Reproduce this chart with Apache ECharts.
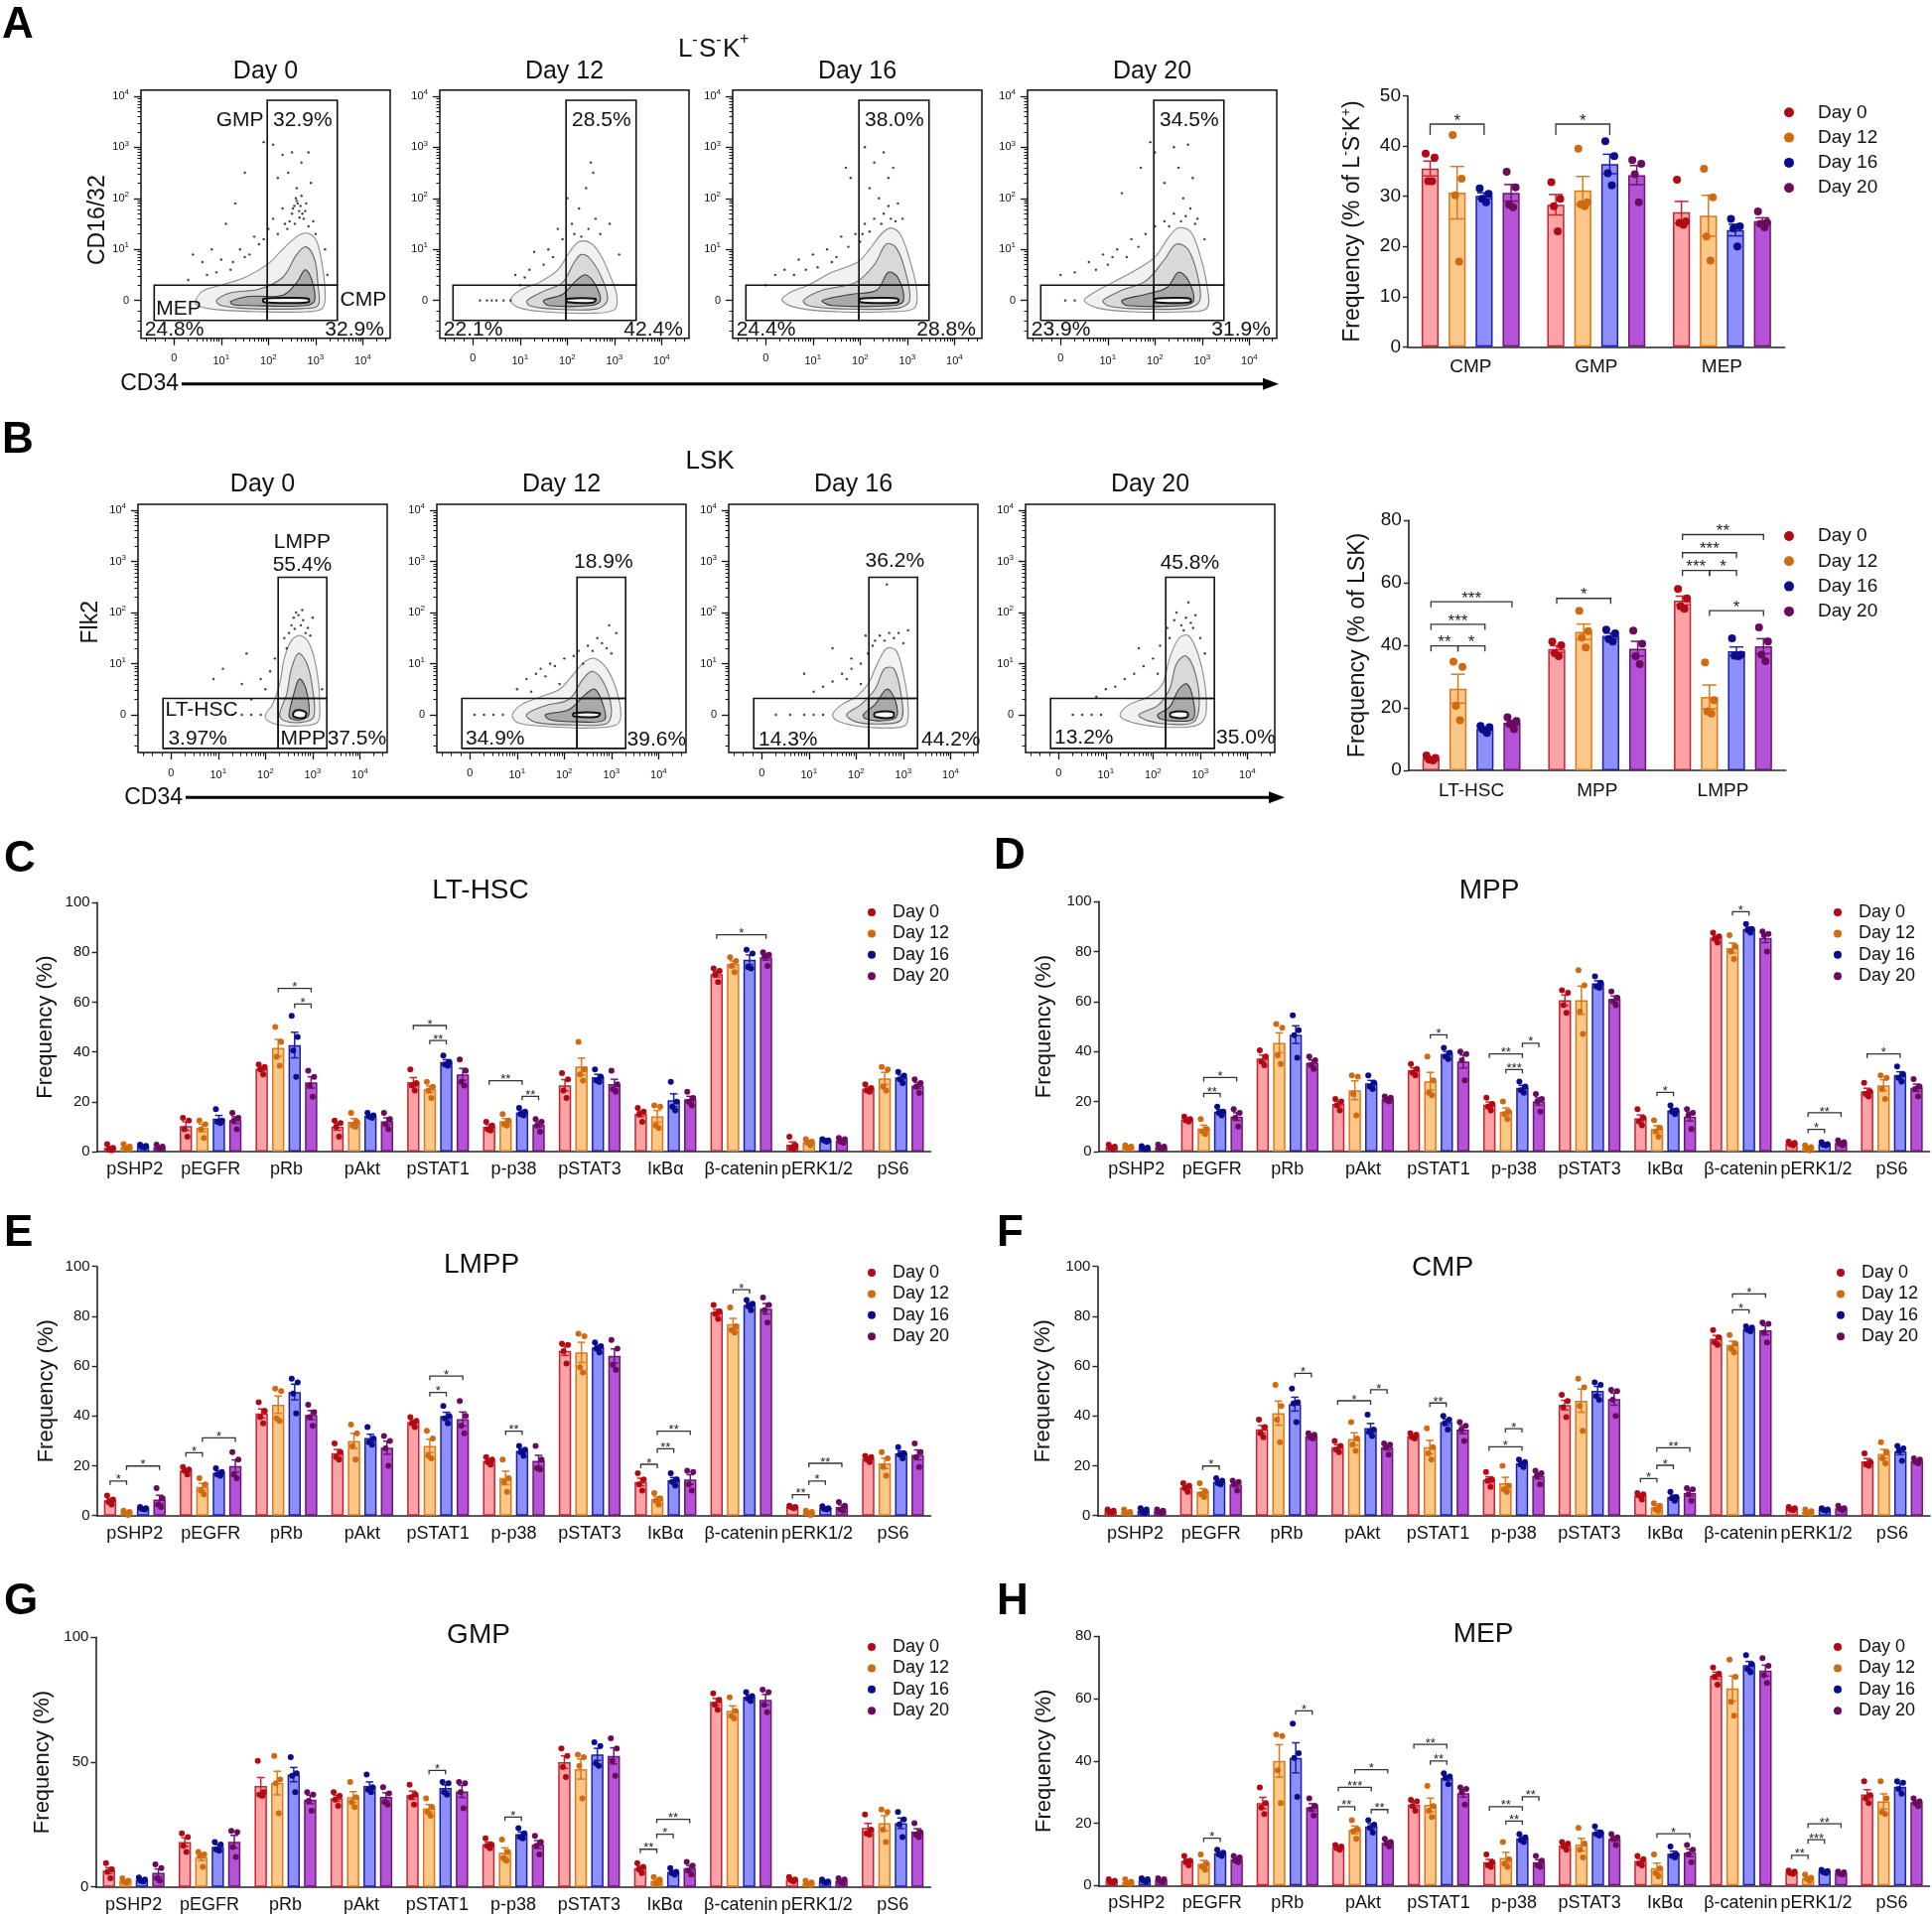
<!DOCTYPE html>
<html><head><meta charset="utf-8">
<script src="https://cdn.jsdelivr.net/npm/echarts@6/dist/echarts.min.js"></script>
<style>html,body{margin:0;padding:0;background:#fff}#c{width:1946px;height:1930px}</style>
</head><body><div id="c"></div>
<script>
const FONT = "'Liberation Sans', Arial, Helvetica, sans-serif";
const dayNames = ['Day 0','Day 12','Day 16','Day 20'];
const fillCol = ['#FBA3A6','#FDC788','#8D90FA','#B553D8'];
const edgeCol = ['#C02530','#D9781C','#1D1FA3','#6C1670'];
const dotCol  = ['#B10A14','#D06A10','#0B0C8C','#6A0B5E'];

// ---------- Panel A / B bar data (dots per bar) ----------
const catsA = ['CMP','GMP','MEP'];
const A_day0  = [[38.5,37.7,33.0,33.0],[32.8,29.5,28.0,23.0],[33.3,25.0,24.7,24.3]];
const A_day12 = [[42.2,33.5,30.2,17.0],[39.5,28.8,28.4,28.0],[35.5,29.8,22.0,17.2]];
const A_day16 = [[31.6,30.5,29.5,28.8],[41.0,38.0,34.6,32.2],[25.5,24.0,23.6,20.0]];
const A_day20 = [[34.9,31.8,28.3,27.8],[37.2,36.5,34.4,28.8],[27.0,24.8,24.5,23.8]];
const A_sig = [[0,0,2,44.4,'*'],[1,0,2,44.4,'*']];

const catsB = ['LT-HSC','MPP','LMPP'];
const B_day0  = [[4.8,4.0,3.5,3.2],[41.2,40.0,37.5,36.5],[58.0,55.0,52.5,51.7]];
const B_day12 = [[34.8,33.1,20.6,16.0],[51.0,44.5,42.5,39.3],[34.5,22.5,18.8,18.2]];
const B_day16 = [[14.2,13.8,13.0,12.0],[45.0,43.8,42.0,41.2],[42.2,37.0,36.7,36.5]];
const B_day20 = [[17.0,15.8,14.8,13.2],[44.7,40.5,36.5,34.0],[45.7,41.2,37.0,34.9]];
const B_sig = [[0,0,1,39.8,'**'],[0,1,2,39.8,'*'],[0,0,2,46.7,'***'],[0,0,3,53.9,'***'],[1,0,2,55.0,'*'],
  [2,0,1,63.9,'***'],[2,1,2,63.9,'*'],[2,0,2,69.6,'***'],[2,0,3,75.4,'**'],[2,1,3,51.1,'*']];

// ---------- Panels C-H ----------
const catsBig = ['pSHP2','pEGFR','pRb','pAkt','pSTAT1','p-p38','pSTAT3','IκBα','β-catenin','pERK1/2','pS6'];

const C_day0  = [[3.0,1.5,0.8,0.5],[13.5,12.5,9.0,6.0],[35.0,34.0,33.0,31.0],[12.5,11.5,10.0,6.0],[33.0,27.5,26.5,24.5],[12.0,10.5,9.0,8.5],[31.5,29.0,24.5,21.5],[17.5,16.0,15.0,12.0],[73.5,72.5,71.0,68.0],[6.0,2.5,1.5,1.0],[27.0,25.5,24.5,24.0]];
const C_day12 = [[3.0,2.0,1.5,0.8],[12.5,11.0,9.0,5.5],[50.0,44.0,38.0,34.5],[15.5,12.0,10.5,10.0],[28.0,26.0,24.5,21.5],[15.0,12.5,11.0,10.5],[44.0,33.0,31.0,28.5],[18.5,18.0,10.5,9.5],[78.0,76.5,74.5,72.0],[5.0,4.0,3.5,2.5],[34.0,33.0,26.0,24.5]];
const C_day16 = [[2.8,2.3,2.0,1.7],[17.0,12.5,12.0,11.5],[54.5,46.0,40.5,30.0],[15.5,14.5,14.0,13.5],[38.5,36.0,35.0,34.5],[17.5,16.0,15.0,14.5],[33.0,30.0,28.5,28.0],[28.0,20.0,18.0,16.5],[81.0,79.5,74.0,73.5],[5.0,4.5,4.5,4.0],[32.0,30.5,29.0,27.5]];
const C_day20 = [[2.8,2.0,1.5,1.0],[15.5,13.5,12.5,9.0],[32.5,30.0,26.5,22.0],[15.5,13.0,11.0,9.0],[37.0,32.5,28.0,26.5],[13.0,12.0,10.5,8.0],[32.5,27.0,25.0,24.0],[24.0,21.5,20.0,18.5],[80.0,79.0,78.5,74.5],[5.5,5.0,4.0,3.5],[29.0,27.5,26.0,23.5]];
const C_sig = [[2,1,3,65.5,'*'],[2,2,3,59.2,'*'],[4,0,2,50.6,'*'],[4,1,2,44.6,'**'],[5,0,2,28.4,'**'],[5,2,3,22.2,'**'],[8,0,3,87.0,'*']];

const D_day0  = [[2.8,2.0,1.5,1.0],[14.0,13.0,12.5,12.0],[40.5,38.0,36.0,34.5],[21.0,20.0,18.5,16.5],[35.0,33.0,31.5,30.5],[21.5,19.0,18.0,16.5],[64.5,63.5,58.5,55.5],[17.0,13.5,12.0,10.5],[87.5,86.0,85.0,83.5],[4.0,3.5,3.0,2.5],[27.5,24.0,23.0,22.0]];
const D_day12 = [[2.5,2.0,1.5,1.2],[13.0,9.0,8.0,7.0],[51.0,49.5,38.5,35.0],[30.5,30.0,23.0,14.5],[38.0,28.5,23.5,22.5],[20.0,16.0,15.0,13.0],[72.5,66.5,56.0,47.0],[12.5,9.5,8.0,6.0],[86.5,82.0,80.0,77.0],[2.5,1.8,1.0,0.5],[30.5,29.5,25.0,21.0]];
const D_day16 = [[2.2,1.6,1.2,1.0],[18.0,16.0,15.5,14.5],[54.5,48.5,46.5,37.5],[30.5,27.5,26.0,25.0],[41.5,39.5,38.0,37.0],[28.0,26.0,24.5,23.5],[70.0,67.5,66.0,65.5],[18.5,16.5,16.0,15.0],[91.0,89.0,88.5,87.5],[3.8,3.0,2.8,2.5],[34.0,31.0,29.5,28.0]];
const D_day20 = [[2.8,2.0,1.5,1.0],[17.0,15.5,13.5,10.0],[38.0,36.5,34.5,33.0],[22.0,21.5,20.5,20.0],[40.0,39.0,36.5,28.5],[23.0,21.0,20.0,16.0],[64.0,61.5,60.0,58.5],[17.0,15.5,14.5,9.0],[88.0,87.0,86.5,80.0],[4.5,3.8,3.2,2.5],[29.0,26.0,25.0,22.0]];
const D_sig = [[1,1,3,29.6,'*'],[1,1,2,23.3,'**'],[4,1,2,46.7,'*'],[5,0,2,39.0,'**'],[5,2,3,43.3,'*'],[5,1,2,32.8,'***'],[7,1,2,23.7,'*'],[8,1,2,95.9,'*'],[9,1,2,8.9,'*'],[9,1,3,15.5,'**'],[10,0,2,39.0,'*']];

const E_day0  = [[8.0,6.5,5.5,4.5],[19.5,18.5,18.0,16.5],[45.5,42.0,39.5,37.0],[29.0,25.5,23.5,22.5],[39.5,38.0,37.0,35.5],[23.5,22.5,21.5,20.5],[69.0,68.5,66.0,61.0],[17.0,14.5,12.5,10.0],[84.5,82.0,81.0,79.0],[4.0,3.5,3.5,3.0],[24.0,23.5,22.5,21.5]];
const E_day12 = [[2.0,1.5,1.0,0.3],[15.0,12.5,10.0,8.5],[51.0,50.0,39.0,38.0],[36.5,33.0,28.0,22.5],[34.0,31.0,24.0,23.0],[22.5,15.0,13.5,9.5],[73.0,72.0,59.5,57.5],[9.0,7.0,6.0,4.5],[83.5,76.0,74.5,73.5],[2.0,1.5,1.0,0.3],[25.5,23.0,19.5,16.0]];
const E_day16 = [[3.5,3.0,2.8,2.5],[19.0,17.5,16.5,16.0],[55.0,53.5,49.0,41.0],[35.5,31.0,29.5,28.5],[44.0,40.0,39.0,37.0],[28.0,26.5,25.5,24.0],[69.5,68.0,67.0,65.5],[17.0,14.5,13.5,12.0],[86.5,85.0,84.0,82.5],[3.8,3.0,2.8,2.5],[27.5,25.0,24.5,23.0]];
const E_day20 = [[11.0,7.0,4.5,3.5],[25.5,22.5,16.5,15.0],[44.5,41.5,39.5,36.0],[32.0,30.0,27.0,20.0],[46.0,40.0,36.0,33.0],[28.0,22.5,19.0,18.5],[70.5,67.0,60.5,58.5],[18.0,17.5,12.5,10.0],[87.5,84.5,82.5,77.5],[5.5,4.0,2.5,2.0],[29.0,25.5,23.5,19.5]];
const E_sig = [[0,0,1,13.9,'*'],[0,1,3,19.9,'*'],[1,0,1,25.2,'*'],[1,1,3,31.2,'*'],[4,1,2,49.4,'*'],[4,1,3,56.0,'*'],[5,1,2,33.9,'**'],[7,0,1,20.6,'*'],[7,1,2,26.8,'**'],[7,1,3,33.9,'**'],[8,1,2,90.7,'*'],[9,0,1,8.4,'**'],[9,1,2,13.9,'*'],[9,1,3,21.0,'**']];

const F_day0  = [[2.5,2.0,1.5,1.2],[13.0,12.0,11.0,9.5],[38.5,35.5,33.0,31.5],[30.0,28.0,26.5,25.5],[33.0,32.5,31.5,31.0],[17.5,14.5,14.0,11.5],[48.5,46.0,43.5,39.5],[9.0,8.5,8.0,6.5],[74.5,71.5,69.5,68.5],[3.5,3.0,2.5,2.2],[25.0,21.5,20.5,20.0]];
const F_day12 = [[2.5,1.5,1.0,0.8],[13.0,9.5,8.5,7.5],[52.5,44.0,38.5,29.5],[37.5,31.0,28.5,26.0],[35.0,27.5,25.0,22.5],[20.0,12.0,10.5,9.5],[55.0,51.5,44.0,34.0],[5.0,4.0,2.5,2.0],[72.5,69.0,67.0,65.5],[2.5,1.8,1.0,0.7],[29.5,25.5,23.0,21.0]];
const F_day16 = [[3.0,2.5,1.5,1.0],[15.0,14.0,13.0,12.5],[51.0,45.5,45.0,37.5],[40.5,34.5,33.5,32.0],[40.0,38.5,37.0,34.5],[22.5,21.5,20.5,19.5],[53.5,52.5,48.0,46.5],[9.5,7.5,7.0,6.0],[76.0,75.5,74.5,74.0],[3.0,2.5,2.3,2.0],[28.0,27.0,26.0,22.0]];
const F_day20 = [[2.5,2.0,1.5,1.0],[14.0,13.5,12.5,10.0],[33.0,32.5,31.5,31.0],[29.0,28.5,27.5,24.5],[37.5,36.0,34.5,30.0],[18.0,17.0,16.0,12.5],[50.5,50.0,46.5,40.0],[11.0,10.5,8.5,6.0],[77.5,77.0,73.5,69.5],[4.0,3.0,2.8,2.2],[23.0,22.5,21.5,21.0]];
const F_sig = [[1,1,2,19.9,'*'],[2,2,3,57.1,'*'],[3,0,2,46.1,'*'],[3,2,3,50.5,'*'],[4,1,2,45.2,'**'],[5,0,2,27.6,'*'],[5,1,2,34.9,'*'],[7,0,1,14.9,'*'],[7,1,2,20.2,'*'],[7,1,3,27.2,'**'],[8,1,2,82.6,'*'],[8,1,3,89.0,'*']];

const G_day0  = [[9.5,7.0,6.0,3.5],[21.5,20.0,16.5,14.0],[50.5,38.0,37.0,36.5],[38.0,36.5,35.0,32.5],[41.0,37.0,36.0,33.0],[19.5,17.0,16.5,15.5],[55.5,52.5,48.0,44.0],[9.5,8.0,7.0,5.5],[77.5,75.0,73.0,71.0],[4.0,3.0,2.8,2.2],[29.0,23.0,21.5,21.0]];
const G_day12 = [[3.5,2.5,2.0,1.8],[14.0,13.0,12.5,8.0],[52.5,43.0,41.5,29.5],[42.0,36.0,34.0,32.0],[35.5,32.0,30.0,28.5],[19.0,14.0,11.5,10.5],[53.0,52.0,48.5,35.5],[4.0,3.0,1.5,1.5],[76.0,70.5,68.5,67.5],[2.5,1.8,1.0,0.7],[31.0,30.0,23.0,18.0]];
const G_day16 = [[3.8,3.0,2.5,2.2],[18.0,17.0,15.0,14.5],[52.0,45.5,44.5,38.0],[45.0,40.0,39.0,38.0],[42.0,41.5,38.0,37.0],[23.5,21.5,20.0,19.5],[58.0,56.5,49.5,48.5],[7.5,6.0,5.5,5.0],[78.0,76.5,75.5,74.5],[3.0,2.2,2.0,1.8],[30.0,27.0,25.0,20.0]];
const G_day20 = [[9.0,7.5,3.5,2.5],[22.5,22.0,16.0,12.0],[38.0,37.0,34.5,30.5],[40.0,37.5,34.0,33.0],[42.0,41.5,38.0,31.5],[20.5,18.0,16.5,13.0],[59.5,55.5,50.5,44.5],[10.0,8.5,6.5,5.0],[79.0,78.0,73.0,70.0],[3.5,3.0,2.0,1.5],[25.5,22.0,21.0,20.0]];
const G_sig = [[4,1,2,46.7,'*'],[5,1,2,28.0,'*'],[7,0,1,15.1,'**'],[7,1,2,21.1,'*'],[7,1,3,27.1,'**']];

const H_day0  = [[2.0,1.5,1.2,1.0],[9.5,8.0,7.5,6.5],[31.5,26.5,25.0,23.0],[13.0,12.5,12.0,11.5],[27.5,27.0,25.5,24.0],[10.0,7.5,6.5,6.0],[14.0,13.5,12.5,11.5],[9.5,8.5,7.0,6.5],[70.0,68.0,67.0,64.5],[4.8,4.5,4.0,3.8],[33.5,29.0,28.0,26.5]];
const H_day12 = [[2.0,1.2,0.8,0.5],[10.0,7.0,6.0,5.0],[48.5,48.0,37.0,26.5],[21.0,18.0,17.5,15.0],[32.0,25.5,24.0,22.0],[14.0,8.5,7.0,6.0],[18.5,13.5,11.5,9.0],[10.0,5.5,4.0,3.0],[72.5,67.0,59.0,54.5],[3.5,2.5,2.2,1.5],[33.5,28.0,23.5,23.0]];
const H_day16 = [[2.3,2.0,1.6,1.3],[11.5,10.5,10.0,9.5],[52.0,42.5,41.0,28.5],[21.0,19.5,18.5,17.0],[36.0,35.0,34.5,32.5],[16.5,15.5,14.5,14.0],[19.0,17.0,16.5,16.0],[12.5,10.0,9.5,9.0],[74.0,71.0,69.5,68.5],[5.0,4.6,4.3,4.0],[33.5,33.0,31.0,29.5]];
const H_day20 = [[2.3,2.0,1.5,1.2],[9.5,9.0,8.0,7.5],[28.0,25.5,24.5,22.5],[15.0,14.0,13.5,12.5],[31.5,31.0,30.0,26.0],[9.5,8.0,6.5,6.0],[16.5,15.5,15.0,13.0],[13.0,11.5,10.0,7.5],[73.0,70.5,67.5,65.0],[4.5,4.2,3.8,3.5],[28.0,27.0,26.5,25.5]];
const H_sig = [[1,1,2,15.2,'*'],[2,2,3,56.1,'*'],[3,0,1,25.3,'**'],[3,0,2,31.5,'***'],[3,1,3,37.2,'*'],[3,2,3,24.4,'**'],[4,0,2,45.3,'**'],[4,1,2,40.0,'**'],[5,0,2,25.3,'**'],[5,1,2,20.7,'**'],[5,2,3,28.5,'**'],[7,1,3,16.6,'*'],[9,0,1,9.7,'**'],[9,1,2,14.7,'***'],[9,1,3,19.8,'**']];

// ---------- Flow cytometry panels (display units: 0 -> 0, 10^k -> k) ----------
const flowTicks = [0,1,2,3,4];
const logFrac = [0.301,0.477,0.602,0.699,0.778,0.845,0.903,0.954];
const gatesA = [[-0.42,-0.39,1.975,0.30],[1.975,-0.39,3.46,0.30],[1.975,0.30,3.46,3.92]];
const gatesB = [[-0.17,-0.66,2.27,0.32],[2.27,-0.66,3.30,0.32],[2.27,0.32,3.30,2.69]];

const A0_cont = [
 [[0.45,-0.05],[0.6,0.18],[1.0,0.3],[1.5,0.45],[2.0,0.72],[2.3,1.0],[2.6,1.25],[2.8,1.32],[3.0,1.2],[3.12,0.8],[3.2,0.2],[3.15,-0.15],[2.8,-0.22],[1.8,-0.22],[0.9,-0.18],[0.55,-0.12]],
 [[0.9,0.0],[1.2,0.15],[1.8,0.22],[2.3,0.45],[2.6,0.9],[2.8,1.05],[2.98,0.8],[3.05,0.3],[3.05,-0.1],[2.7,-0.16],[1.6,-0.16],[1.0,-0.1]],
 [[1.2,-0.02],[1.6,0.08],[2.3,0.1],[2.6,0.35],[2.78,0.6],[2.92,0.4],[2.98,0.0],[2.8,-0.1],[1.6,-0.1],[1.25,-0.08]],
 [[1.9,-0.03],[2.5,-0.05],[2.85,-0.03],[2.85,0.03],[2.5,0.05],[1.9,0.03]]];
const A0_dots = [[2.6,1.95],[2.55,1.85],[2.65,1.75],[2.7,2.05],[2.5,1.7],[2.75,1.6],[2.45,1.55],[2.8,1.9],[2.6,2.2],[2.85,1.45],[2.4,1.4],[2.3,1.8],[2.9,2.3],[2.2,2.4],[2.7,2.7],[2.5,2.9],[2.1,3.05],[2.85,2.9],[1.9,3.1],[1.5,2.5],[1.3,1.9],[1.1,1.5],[0.8,1.0],[0.4,0.9],[0.6,0.75],[1.0,0.8],[1.4,1.0],[1.7,1.25],[1.9,1.2],[2.0,1.4],[1.2,0.6],[0.3,0.4],[3.2,1.0],[3.25,0.5],[1.6,0.9],[2.1,1.6],[2.62,1.9],[2.68,1.85],[2.58,2.0],[2.72,1.7],[2.52,1.8],[2.66,1.62],[2.56,1.5],[2.78,1.75],[2.35,1.5],[2.2,1.3],[1.8,1.1],[1.5,0.85],[1.25,0.75],[0.9,0.55],[0.7,0.5],[2.95,1.55],[3.0,1.3],[2.42,2.5],[2.3,2.85]];
const A0_lab = [[1.90,3.53,'GMP','right'],[2.10,3.53,'32.9%','left'],[-0.38,-0.17,'MEP','left'],[3.52,0.0,'CMP','left'],[-0.62,-0.58,'24.8%','left'],[4.45,-0.58,'32.9%','right']];

const A12_cont = [
 [[0.8,0.0],[1.0,0.2],[1.4,0.35],[1.8,0.6],[2.05,0.95],[2.25,1.15],[2.5,1.12],[2.7,0.9],[2.9,0.5],[3.05,0.1],[3.0,-0.18],[2.5,-0.25],[1.5,-0.22],[1.0,-0.15]],
 [[1.15,0.0],[1.5,0.18],[1.9,0.35],[2.15,0.75],[2.3,0.9],[2.5,0.8],[2.75,0.4],[2.85,0.0],[2.6,-0.17],[1.6,-0.16],[1.2,-0.1]],
 [[1.5,0.0],[1.9,0.12],[2.2,0.4],[2.4,0.5],[2.6,0.3],[2.7,0.0],[2.5,-0.1],[1.6,-0.1]],
 [[2.0,-0.03],[2.55,-0.04],[2.6,0.03],[2.0,0.03]]];
const A12_dots = [[2.4,2.2],[2.5,2.7],[2.55,2.5],[2.0,2.0],[2.25,1.8],[2.6,1.6],[2.9,1.5],[1.8,1.4],[2.1,1.5],[1.3,0.95],[1.6,1.0],[0.9,0.5],[1.2,0.6],[1.5,0.7],[1.0,0.3],[0.3,0.0],[0.5,0.0],[0.65,0.0],[0.15,0.0],[2.45,1.4],[2.7,1.3],[3.1,0.9],[1.9,1.2],[2.3,1.25],[2.15,1.3],[1.7,0.85],[1.1,0.45],[0.4,0.0],[0.8,0.0]];
const A12_lab = [[2.10,3.53,'28.5%','left'],[-0.62,-0.58,'22.1%','left'],[4.45,-0.58,'42.4%','right']];

const A16_cont = [
 [[0.35,0.0],[0.5,0.15],[0.9,0.3],[1.4,0.55],[1.95,0.75],[2.2,1.0],[2.45,1.3],[2.65,1.42],[2.85,1.3],[3.05,0.8],[3.2,0.2],[3.15,-0.15],[2.6,-0.22],[1.5,-0.22],[0.7,-0.15]],
 [[0.8,0.0],[1.2,0.2],[1.9,0.35],[2.3,0.7],[2.55,1.1],[2.75,1.05],[2.95,0.6],[3.05,0.0],[2.8,-0.15],[1.5,-0.16],[0.9,-0.1]],
 [[1.2,0.0],[1.8,0.12],[2.35,0.2],[2.6,0.55],[2.8,0.45],[2.92,0.0],[2.7,-0.1],[1.4,-0.1]],
 [[2.0,-0.03],[2.5,-0.05],[2.8,-0.03],[2.8,0.03],[2.5,0.05],[2.0,0.03]]];
const A16_dots = [[2.1,3.0],[2.3,2.7],[2.6,2.4],[2.5,2.9],[2.7,2.6],[2.2,2.2],[1.8,2.4],[1.7,2.6],[2.4,2.0],[2.6,1.85],[2.8,1.9],[2.5,1.7],[2.3,1.6],[2.9,1.6],[2.1,1.5],[1.9,1.3],[1.6,1.25],[1.3,1.0],[1.0,0.9],[0.7,0.8],[0.4,0.6],[0.2,0.5],[0.0,0.3],[1.5,0.85],[1.75,1.05],[2.0,1.15],[0.6,0.5],[1.1,0.65],[2.45,1.5],[2.65,1.6],[2.75,1.55],[2.2,1.35],[1.4,0.75],[0.85,0.6],[2.05,1.3]];
const A16_lab = [[2.10,3.53,'38.0%','left'],[-0.62,-0.58,'24.4%','left'],[4.45,-0.58,'28.8%','right']];

const A20_cont = [
 [[0.5,0.0],[0.7,0.15],[1.1,0.35],[1.6,0.6],[2.0,0.85],[2.3,1.25],[2.5,1.42],[2.75,1.35],[2.95,0.9],[3.1,0.3],[3.1,-0.15],[2.6,-0.22],[1.5,-0.22],[0.8,-0.15]],
 [[0.9,0.0],[1.3,0.2],[1.8,0.38],[2.2,0.8],[2.45,1.1],[2.7,1.0],[2.9,0.5],[2.95,0.0],[2.7,-0.15],[1.5,-0.16],[1.0,-0.1]],
 [[1.3,0.0],[1.8,0.12],[2.25,0.25],[2.5,0.55],[2.7,0.4],[2.82,0.0],[2.6,-0.1],[1.4,-0.1]],
 [[2.0,-0.03],[2.5,-0.05],[2.75,-0.03],[2.75,0.03],[2.5,0.05],[2.0,0.03]]];
const A20_dots = [[1.9,3.1],[2.0,2.9],[2.4,3.0],[2.7,3.05],[2.5,2.6],[2.8,2.4],[2.2,2.3],[1.7,2.6],[1.3,2.1],[2.6,2.0],[2.75,1.8],[2.4,1.7],[2.9,1.6],[2.2,1.55],[2.0,1.45],[1.8,1.3],[1.5,1.2],[1.2,1.0],[0.9,0.9],[0.6,0.75],[0.3,0.55],[0.0,0.5],[1.0,0.7],[1.4,0.85],[3.05,1.2],[0.1,0.0],[0.3,0.0],[2.55,1.55],[2.65,1.65],[2.3,1.45],[1.65,1.05],[1.1,0.85],[0.75,0.6],[2.85,1.5]];
const A20_lab = [[2.10,3.53,'34.5%','left'],[-0.62,-0.58,'23.9%','left'],[4.45,-0.58,'31.9%','right']];

const B0_cont = [
 [[2.0,0.0],[2.15,0.2],[2.3,0.6],[2.4,1.1],[2.55,1.45],[2.75,1.55],[2.95,1.35],[3.1,0.8],[3.15,0.2],[3.1,-0.15],[2.7,-0.22],[2.3,-0.2],[2.05,-0.12]],
 [[2.3,0.0],[2.45,0.4],[2.55,0.9],[2.7,1.2],[2.88,1.0],[3.0,0.5],[3.02,-0.05],[2.75,-0.15],[2.4,-0.12]],
 [[2.5,0.0],[2.6,0.4],[2.72,0.7],[2.86,0.5],[2.92,0.0],[2.75,-0.1],[2.55,-0.08]],
 [[2.6,-0.04],[2.82,-0.06],[2.86,0.04],[2.7,0.09],[2.6,0.05]]];
const B0_dots = [[2.6,1.9],[2.7,1.95],[2.8,1.85],[2.9,1.7],[2.5,1.6],[2.65,2.0],[3.0,1.9],[2.75,1.75],[2.2,1.1],[1.6,1.2],[1.1,0.9],[0.9,0.7],[1.5,0.6],[1.9,0.7],[2.0,0.5],[2.1,0.85],[1.7,0.3],[1.3,0.0],[1.5,0.0],[1.7,0.0],[1.9,0.0],[3.2,0.5],[2.45,1.3],[2.55,1.75],[2.85,1.6],[2.62,1.68],[2.78,2.05],[2.95,1.55],[2.4,1.5]];
const B0_lab = [[2.78,3.38,'LMPP','center'],[2.78,2.93,'55.4%','center'],[-0.12,0.10,'LT-HSC','left'],[-0.06,-0.47,'3.97%','left'],[2.32,-0.47,'MPP','left'],[3.31,-0.47,'37.5%','left']];

const B12_cont = [
 [[0.9,0.0],[1.1,0.2],[1.5,0.35],[1.9,0.5],[2.2,0.8],[2.45,1.05],[2.65,1.1],[2.9,0.9],[3.1,0.5],[3.2,0.0],[3.1,-0.2],[2.5,-0.26],[1.5,-0.22],[1.0,-0.15]],
 [[1.2,0.0],[1.6,0.18],[2.1,0.3],[2.4,0.7],[2.6,0.85],[2.85,0.6],[3.0,0.1],[2.9,-0.17],[2.2,-0.2],[1.4,-0.15]],
 [[1.6,0.0],[2.1,0.1],[2.45,0.4],[2.65,0.5],[2.82,0.2],[2.85,-0.1],[2.3,-0.14],[1.7,-0.1]],
 [[2.2,-0.03],[2.7,-0.04],[2.75,0.03],[2.2,0.03]]];
const B12_dots = [[2.7,1.5],[2.8,1.4],[2.9,1.3],[2.5,1.35],[2.6,1.25],[3.0,1.2],[2.3,1.25],[2.0,1.1],[1.8,0.95],[1.5,0.9],[1.2,0.7],[1.6,0.75],[1.9,0.6],[1.0,0.5],[1.3,0.45],[3.1,1.6],[2.95,1.75],[2.4,1.0],[0.3,0.0],[0.5,0.0],[0.7,0.0],[0.1,0.0],[2.2,1.15],[1.7,1.0],[1.4,0.8]];
const B12_lab = [[2.83,2.98,'18.9%','center'],[-0.09,-0.47,'34.9%','left'],[3.33,-0.50,'39.6%','left']];

const B16_cont = [
 [[1.5,0.0],[1.7,0.2],[2.0,0.35],[2.25,0.6],[2.45,1.0],[2.65,1.3],[2.85,1.25],[3.0,0.8],[3.1,0.2],[3.05,-0.2],[2.6,-0.26],[2.0,-0.22],[1.6,-0.12]],
 [[1.8,0.0],[2.1,0.2],[2.4,0.5],[2.6,0.9],[2.8,0.9],[2.95,0.4],[2.95,-0.1],[2.5,-0.18],[2.0,-0.14]],
 [[2.15,0.0],[2.4,0.2],[2.65,0.5],[2.82,0.3],[2.85,-0.05],[2.5,-0.12],[2.2,-0.08]],
 [[2.4,-0.04],[2.78,-0.05],[2.78,0.05],[2.4,0.04]]];
const B16_dots = [[2.7,1.6],[2.5,1.55],[2.9,1.6],[3.1,1.65],[2.4,1.45],[2.6,1.45],[3.0,1.4],[2.25,1.2],[2.1,1.0],[1.9,0.9],[1.7,0.8],[1.5,0.65],[1.3,0.55],[1.1,0.45],[1.9,1.1],[2.2,1.55],[2.65,2.55],[1.5,1.3],[0.9,0.8],[0.3,0.0],[0.6,0.0],[0.9,0.0],[1.1,0.0],[1.3,0.0],[2.1,0.6],[2.35,1.35],[2.8,1.5],[1.8,0.7]];
const B16_lab = [[2.82,3.01,'36.2%','center'],[-0.07,-0.50,'14.3%','left'],[3.38,-0.50,'44.2%','left']];

const B20_cont = [
 [[1.3,0.0],[1.5,0.2],[1.9,0.35],[2.2,0.6],[2.35,1.1],[2.55,1.5],[2.75,1.55],[2.95,1.2],[3.1,0.6],[3.12,0.0],[2.95,-0.2],[2.4,-0.25],[1.8,-0.2],[1.4,-0.1]],
 [[1.7,0.0],[2.1,0.18],[2.35,0.5],[2.5,1.0],[2.7,1.15],[2.9,0.8],[2.98,0.2],[2.85,-0.15],[2.3,-0.18],[1.9,-0.12]],
 [[2.1,0.0],[2.35,0.15],[2.55,0.5],[2.72,0.6],[2.85,0.3],[2.85,-0.08],[2.4,-0.12],[2.15,-0.08]],
 [[2.38,-0.04],[2.72,-0.05],[2.72,0.05],[2.38,0.04]]];
const B20_dots = [[2.5,2.0],[2.7,1.9],[2.8,1.8],[2.6,1.75],[2.9,1.95],[2.45,1.85],[2.75,2.2],[2.3,1.7],[3.0,1.5],[3.1,1.2],[2.15,1.35],[2.0,1.1],[1.8,0.95],[1.6,0.8],[1.4,0.7],[1.2,0.55],[1.0,0.5],[0.8,0.35],[1.7,1.3],[2.1,0.8],[0.3,0.0],[0.5,0.0],[0.7,0.0],[0.9,0.0],[2.65,1.65],[2.85,1.7],[2.35,1.5]];
const B20_lab = [[2.78,2.96,'45.8%','center'],[-0.09,-0.45,'13.2%','left'],[3.34,-0.45,'35.0%','left']];

// ---------- helpers ----------
const mean = a => a.reduce((s,v)=>s+v,0)/a.length;
const sem = a => { const m = mean(a); const v = a.reduce((s,x)=>s+(x-m)*(x-m),0)/(a.length-1); return Math.sqrt(v/a.length); };

const grids=[], xAxes=[], yAxes=[], series=[], legends=[], graphics=[];

function addBarPanel(cfg) {
  const gi = grids.length;
  grids.push({left:cfg.left, top:cfg.top, width:cfg.width, height:cfg.height});
  const xi = xAxes.length, yi = yAxes.length;
  xAxes.push({type:'category', gridIndex:gi, data:cfg.cats,
    axisLine:{lineStyle:{color:'#222', width:1.6}},
    axisTick:{alignWithLabel:true, length:5, lineStyle:{color:'#222', width:1.4}},
    axisLabel:{color:'#111', fontSize:cfg.catFont, fontFamily:FONT, margin:cfg.catMargin, interval:0}});
  yAxes.push({type:'value', gridIndex:gi, min:0, max:cfg.yMax, interval:cfg.yInt,
    name:cfg.yName, nameLocation:'middle', nameGap:cfg.nameGap,
    nameTextStyle:{fontSize:cfg.nameFont, fontFamily:FONT, color:'#111', rich:{s:{fontSize:cfg.nameFont*0.6, fontFamily:FONT, color:'#111', padding:[0,0,cfg.nameFont*0.5,0]}}},
    axisLine:{show:true, lineStyle:{color:'#222', width:1.6}},
    axisTick:{show:true, length:5, lineStyle:{color:'#222', width:1.4}},
    axisLabel:{color:'#111', fontSize:cfg.tickFont, fontFamily:FONT, margin:7},
    splitLine:{show:false}});
  const bw = cfg.barW, gp = cfg.gapPx, step = bw+gp;
  cfg.days.forEach((d,k)=>{
    series.push({type:'bar', name:dayNames[k], xAxisIndex:xi, yAxisIndex:yi, data:d.map(mean),
      barWidth:bw, barGap:(gp/bw*100).toFixed(1)+'%', silent:true, z:2,
      itemStyle:{color:fillCol[k], borderColor:edgeCol[k], borderWidth:1.5}});
  });
  const err=[], dots=[];
  cfg.days.forEach((d,k)=> d.forEach((vals,c)=>{
    err.push([c, mean(vals), sem(vals), k]);
    vals.forEach((v,j)=> dots.push([c, v, k, j]));
  }));
  series.push({type:'custom', xAxisIndex:xi, yAxisIndex:yi, data:err, z:3, silent:true,
    renderItem:(p,api)=>{
      const c=api.value(0), m=api.value(1), s=api.value(2), k=api.value(3);
      const x = api.coord([c,m])[0] + (k-1.5)*step;
      const yt = api.coord([c,m+s])[1], yb = api.coord([c,Math.max(0,m-s)])[1];
      const h = cfg.capHalf;
      return {type:'group', children:[
        {type:'line', shape:{x1:x,y1:yt,x2:x,y2:yb}, style:{stroke:edgeCol[k], lineWidth:1.5}},
        {type:'line', shape:{x1:x-h,y1:yt,x2:x+h,y2:yt}, style:{stroke:edgeCol[k], lineWidth:1.5}},
        {type:'line', shape:{x1:x-h,y1:yb,x2:x+h,y2:yb}, style:{stroke:edgeCol[k], lineWidth:1.5}}]};
    }});
  series.push({type:'custom', xAxisIndex:xi, yAxisIndex:yi, data:dots, z:4, silent:true,
    renderItem:(p,api)=>{
      const c=api.value(0), v=api.value(1), k=api.value(2), j=api.value(3);
      const pt = api.coord([c,v]);
      return {type:'circle', shape:{cx:pt[0]+(k-1.5)*step+cfg.jit[j], cy:pt[1], r:cfg.dotR}, style:{fill:dotCol[k]}};
    }});
  const sigData = cfg.sig.map((s,i)=>[s[0], s[3], s[1], s[2], i]);
  series.push({type:'custom', xAxisIndex:xi, yAxisIndex:yi, data:sigData, z:5, silent:true,
    renderItem:(p,api)=>{
      const c=api.value(0), y=api.value(1), a=api.value(2), b=api.value(3), i=api.value(4);
      const pt = api.coord([c,y]);
      const xa = pt[0]+(a-1.5)*step, xb = pt[0]+(b-1.5)*step, yp = pt[1], L = cfg.leg;
      return {type:'group', children:[
        {type:'polyline', shape:{points:[[xa,yp+L],[xa,yp],[xb,yp],[xb,yp+L]]}, style:{stroke:'#333', lineWidth:1.3, fill:null}},
        {type:'text', x:(xa+xb)/2, y:yp-cfg.starLift, style:{text:cfg.sig[i][4], fontSize:cfg.starFont, fontFamily:FONT, fill:'#222', align:'center', verticalAlign:'middle'}}]};
    }});
  legends.push({orient:'vertical', left:cfg.legLeft, top:cfg.legTop, icon:'circle', itemWidth:cfg.legW, itemHeight:cfg.legDot,
    itemGap:cfg.legGap, selectedMode:false, padding:0,
    textStyle:{fontSize:cfg.legFont, lineHeight:cfg.legFont, fontFamily:FONT, color:'#111'},
    data:dayNames.map((n,k)=>({name:n, itemStyle:{color:dotCol[k], borderWidth:0}}))});
  if (cfg.title) graphics.push({type:'text', x:cfg.titleX, y:cfg.titleY, style:{text:cfg.title, fontSize:28, fontFamily:FONT, fill:'#111', align:'center', verticalAlign:'middle'}});
}

const expRich = {n:{fontSize:11, fontFamily:FONT, color:'#111'}, e:{fontSize:8, fontFamily:FONT, color:'#111', padding:[0,0,8,0]}};
const expFmt = v => (Math.round(v)===0 ? '{n|0}' : '{n|10}{e|'+Math.round(v)+'}');
const minorX = [-0.6,-0.4,-0.2]; const minorY = [-0.6,-0.4,-0.2];
for (let d=0; d<4; d++) logFrac.forEach(f=>{ minorX.push(d+f); minorY.push(d+f); });
minorX.push(4+logFrac[0], 4+logFrac[1]);

function addFlowPanel(left, top, cont, dotsArr, gates, labels) {
  const gi = grids.length;
  grids.push({left, top, width:251, height:250, show:true, borderColor:'#111', borderWidth:1.5, backgroundColor:'rgba(0,0,0,0)'});
  const xi = xAxes.length, yi = yAxes.length;
  const xr = [-0.70, 4.58], yr = [-0.74, 4.12];
  const noLine = {show:false, onZero:false};
  xAxes.push({type:'value', gridIndex:gi, min:xr[0], max:xr[1], position:'bottom', axisLine:noLine, splitLine:{show:false},
    axisTick:{show:true, customValues:flowTicks, length:7, lineStyle:{color:'#111', width:1.3}},
    axisLabel:{show:true, customValues:flowTicks, margin:15, formatter:expFmt, rich:expRich}});
  xAxes.push({type:'value', gridIndex:gi, min:xr[0], max:xr[1], position:'bottom', axisLine:noLine, splitLine:{show:false},
    axisTick:{show:true, customValues:minorX, length:3.5, lineStyle:{color:'#111', width:1}}, axisLabel:{show:false}});
  yAxes.push({type:'value', gridIndex:gi, min:yr[0], max:yr[1], position:'left', axisLine:noLine, splitLine:{show:false},
    axisTick:{show:true, customValues:flowTicks, length:7, lineStyle:{color:'#111', width:1.3}},
    axisLabel:{show:true, customValues:flowTicks, margin:12, formatter:expFmt, rich:expRich}});
  yAxes.push({type:'value', gridIndex:gi, min:yr[0], max:yr[1], position:'left', axisLine:noLine, splitLine:{show:false},
    axisTick:{show:true, customValues:minorY, length:3.5, lineStyle:{color:'#111', width:1}}, axisLabel:{show:false}});
  const lvFill = ['#f1f1f1','#d9d9d9','#a9a9a9','#fafafa'];
  const lvStroke = ['#8c8c8c','#6a6a6a','#3a3a3a','#111111'];
  series.push({type:'custom', xAxisIndex:xi, yAxisIndex:yi, data:[[0,0]], z:1, silent:true,
    renderItem:(p,api)=>{
      const ch = [];
      cont.forEach((poly,l)=>{
        ch.push({type:'polygon', shape:{points:poly.map(q=>api.coord(q)), smooth:0.35}, style:{fill:lvFill[l], stroke:lvStroke[l], lineWidth:l===3?2:1.1}});
      });
      gates.forEach(g=>{
        const a = api.coord([g[0],g[3]]), b = api.coord([g[2],g[1]]);
        ch.push({type:'rect', shape:{x:a[0], y:a[1], width:b[0]-a[0], height:b[1]-a[1]}, style:{fill:null, stroke:'#111', lineWidth:1.6}, z2:10});
      });
      labels.forEach(t=>{
        const q = api.coord([t[0],t[1]]);
        ch.push({type:'text', x:q[0], y:q[1], style:{text:t[2], fontSize:21, fontFamily:FONT, fill:'#111', align:t[3], verticalAlign:'middle'}, z2:11});
      });
      return {type:'group', children:ch};
    }});
  series.push({type:'scatter', xAxisIndex:xi, yAxisIndex:yi, data:dotsArr, symbolSize:2.4, z:3, silent:true, itemStyle:{color:'#111'}});
}

// ---------- build ----------
const rowAx = [142, 443, 738, 1035], rowBx = [139, 440, 734, 1033];
addFlowPanel(rowAx[0], 90.7, A0_cont, A0_dots, gatesA, A0_lab);
addFlowPanel(rowAx[1], 90.7, A12_cont, A12_dots, gatesA, A12_lab);
addFlowPanel(rowAx[2], 90.7, A16_cont, A16_dots, gatesA, A16_lab);
addFlowPanel(rowAx[3], 90.7, A20_cont, A20_dots, gatesA, A20_lab);
addFlowPanel(rowBx[0], 508, B0_cont, B0_dots, gatesB, B0_lab);
addFlowPanel(rowBx[1], 508, B12_cont, B12_dots, gatesB, B12_lab);
addFlowPanel(rowBx[2], 508, B16_cont, B16_dots, gatesB, B16_lab);
addFlowPanel(rowBx[3], 508, B20_cont, B20_dots, gatesB, B20_lab);

const smallCfg = {barW:17.2, gapPx:10, catFont:19, catMargin:11, tickFont:19, nameFont:23, capHalf:7, dotR:4, jit:[-4.5,4.5,-2,2],
  legW:48, legDot:10, legGap:6.3, legFont:19, starFont:17, starLift:3};
addBarPanel(Object.assign({}, smallCfg, {left:1418, top:96.7, width:379.7, height:252.6, cats:catsA, days:[A_day0,A_day12,A_day16,A_day20],
  sig:A_sig, yMax:50, yInt:10, yName:'Frequency (% of L{s|-}S{s|-}K{s|+})', nameGap:43, legLeft:1797, legTop:103.8, leg:11}));
addBarPanel(Object.assign({}, smallCfg, {left:1418.8, top:524, width:380, height:252, cats:catsB, days:[B_day0,B_day12,B_day16,B_day20],
  sig:B_sig, yMax:80, yInt:20, yName:'Frequency (% of LSK)', nameGap:40, legLeft:1797, legTop:530.5, leg:5.5}));

const bigCfg = {cats:catsBig, barW:12.4, gapPx:4.2, catFont:18, catMargin:9, tickFont:15, nameFont:22, capHalf:3.8, dotR:3, jit:[-3,3,-1.5,1.5],
  legW:32, legDot:8, legGap:3.4, legFont:18, starFont:13, starLift:1, leg:4, yMax:100, yInt:20, yName:'Frequency (%)'};
addBarPanel(Object.assign({}, bigCfg, {left:97.6, top:909, width:840, height:251, days:[C_day0,C_day12,C_day16,C_day20], sig:C_sig,
  title:'LT-HSC', titleX:484, titleY:897, legLeft:874, legTop:910, nameGap:41}));
addBarPanel(Object.assign({}, bigCfg, {left:1106.6, top:908, width:837, height:252, days:[D_day0,D_day12,D_day16,D_day20], sig:D_sig,
  title:'MPP', titleX:1500, titleY:897, legLeft:1847, legTop:910, nameGap:44}));
addBarPanel(Object.assign({}, bigCfg, {left:97.6, top:1275.7, width:840, height:251, days:[E_day0,E_day12,E_day16,E_day20], sig:E_sig,
  title:'LMPP', titleX:485, titleY:1274, legLeft:874, legTop:1273, nameGap:40}));
addBarPanel(Object.assign({}, bigCfg, {left:1105.4, top:1275.7, width:838.6, height:251, days:[F_day0,F_day12,F_day16,F_day20], sig:F_sig,
  title:'CMP', titleX:1453, titleY:1277, legLeft:1850, legTop:1273, nameGap:43}));
addBarPanel(Object.assign({}, bigCfg, {left:96.4, top:1649.3, width:841, height:251.4, days:[G_day0,G_day12,G_day16,G_day20], sig:G_sig,
  yInt:50, title:'GMP', titleX:482, titleY:1647, legLeft:874, legTop:1650, nameGap:42}));
addBarPanel(Object.assign({}, bigCfg, {left:1106.6, top:1648.3, width:837, height:251, days:[H_day0,H_day12,H_day16,H_day20], sig:H_sig,
  yMax:80, yInt:20, title:'MEP', titleX:1494, titleY:1646, legLeft:1847, legTop:1650, nameGap:44}));

// ---------- static texts ----------
const letters = [['A',2,4],['B',2,422],['C',4,844],['D',1001,841],['E',4,1221],['F',1004,1221],['G',4,1592],['H',1004,1592]];
letters.forEach(l=>graphics.push({type:'text', x:l[1], y:l[2], style:{text:l[0], fontSize:44, fontWeight:'bold', fontFamily:FONT, fill:'#000', align:'left', verticalAlign:'top'}}));
// L-S-K+ title built from pieces
[['L',683,26,50],['-',697,17,40],['S',704,26,50],['-',721,17,40],['K',728,26,50],['+',745,16,40]].forEach(t=>
  graphics.push({type:'text', x:t[1], y:t[3], style:{text:t[0], fontSize:t[2], fontFamily:FONT, fill:'#111', align:'left', verticalAlign:'middle'}}));
graphics.push({type:'text', x:715, y:465, style:{text:'LSK', fontSize:26, fontFamily:FONT, fill:'#111', align:'center', verticalAlign:'middle'}});
rowAx.forEach((x,i)=>graphics.push({type:'text', x:x+125.5, y:71.7, style:{text:dayNames[i], fontSize:25, fontFamily:FONT, fill:'#111', align:'center', verticalAlign:'middle'}}));
rowBx.forEach((x,i)=>graphics.push({type:'text', x:x+125.5, y:488.3, style:{text:dayNames[i], fontSize:25, fontFamily:FONT, fill:'#111', align:'center', verticalAlign:'middle'}}));
graphics.push({type:'text', x:98.7, y:221.7, rotation:Math.PI/2, style:{text:'CD16/32', fontSize:23, fontFamily:FONT, fill:'#111', align:'center', verticalAlign:'middle'}});
graphics.push({type:'text', x:92, y:626.7, rotation:Math.PI/2, style:{text:'Flk2', fontSize:23, fontFamily:FONT, fill:'#111', align:'center', verticalAlign:'middle'}});
[[386.7,180,1288],[803.3,184,1294]].forEach(r=>{
  graphics.push({type:'text', x:r[1], y:r[0], style:{text:'CD34', fontSize:23, fontFamily:FONT, fill:'#111', align:'right', verticalAlign:'middle'}});
  graphics.push({type:'line', shape:{x1:r[1]+3, y1:r[0], x2:r[2]-12, y2:r[0]}, style:{stroke:'#000', lineWidth:3}});
  graphics.push({type:'polygon', shape:{points:[[r[2],r[0]],[r[2]-16,r[0]-6],[r[2]-16,r[0]+6]]}, style:{fill:'#000'}});
});

const chart = echarts.init(document.getElementById('c'), null, {renderer:'canvas', width:1946, height:1930});
chart.setOption({animation:false, backgroundColor:'#fff', textStyle:{fontFamily:FONT},
  grid:grids, xAxis:xAxes, yAxis:yAxes, series:series, legend:legends, graphic:graphics});
</script></body></html>
